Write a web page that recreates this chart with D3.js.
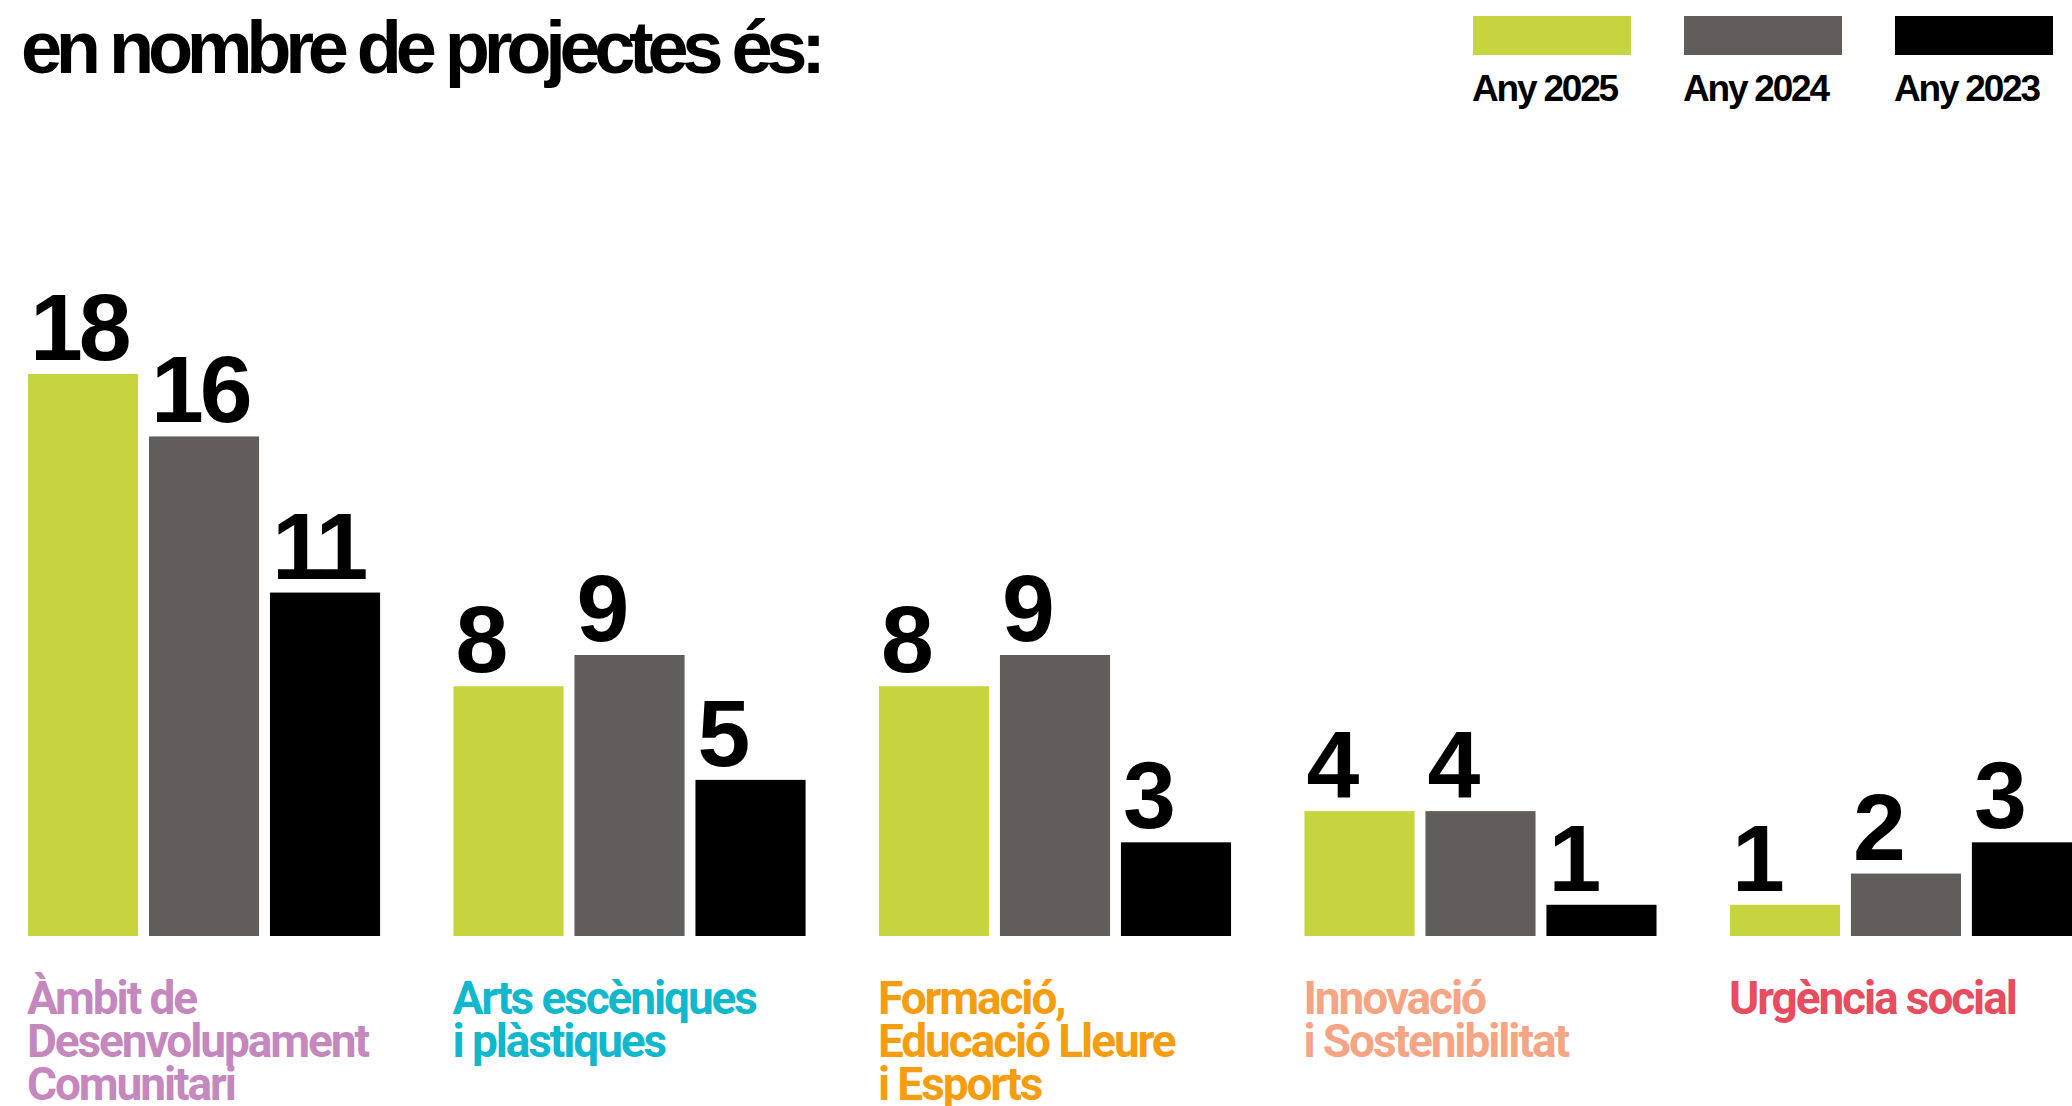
<!DOCTYPE html>
<html lang="ca">
<head>
  <meta charset="UTF-8">
  <title>Projectes per àmbit</title>
  <script src="https://d3js.org/d3.v7.min.js"></script>
  <style>
    body {
      margin: 0;
      padding: 0;
      background: #ffffff;
      overflow: hidden;
    }
    svg { display: block; }
  </style>
</head>
<body>
  <script>
    // data
    const categories = [
      "Àmbit de Desenvolupament Comunitari",
      "Arts escèniques i plàstiques",
      "Formació, Educació Lleure i Esports",
      "Innovació i Sostenibilitat",
      "Urgència social"
    ];
    const categoryLines = [
      ["Àmbit de", "Desenvolupament", "Comunitari"],
      ["Arts escèniques", "i plàstiques"],
      ["Formació,", "Educació Lleure", "i Esports"],
      ["Innovació", "i Sostenibilitat"],
      ["Urgència social"]
    ];
    const series = ["Any 2025", "Any 2024", "Any 2023"];
    const values2025 = [18, 8, 8, 4, 1];
    const values2024 = [16, 9, 9, 4, 2];
    const values2023 = [11, 5, 3, 1, 3];
    const title = "en nombre de projectes és:";

    const width = 2072;
    const height = 1106;

    const seriesValues = [values2025, values2024, values2023];
    const rows = categories.flatMap((c, i) =>
      series.map((s, j) => ({ category: c, series: s, value: seriesValues[j][i] })));

    const barColor = d3.scaleOrdinal()
        .domain(series)
        .range(["#c6d53e", "#615d5a", "#000000"]);

    const labelColor = d3.scaleOrdinal()
        .domain(categories)
        .range(["#c487be", "#10b8cd", "#f59d10", "#f5a583", "#e84c5f"]);

    const x0 = d3.scaleBand()
        .domain(categories)
        .range([28, 2082])
        .paddingInner(0.1725)
        .paddingOuter(0);

    const x1 = d3.scaleBand()
        .domain(series)
        .range([0, x0.bandwidth()])
        .paddingInner(0.09);

    const y = d3.scaleLinear()
        .domain([0, 18])
        .range([936, 374]);

    const svg = d3.create("svg")
        .attr("width", width)
        .attr("height", height)
        .attr("viewBox", [0, 0, width, height]);

    // title
    svg.append("text")
        .attr("x", 21)
        .attr("y", 73)
        .attr("font-family", "'Liberation Sans', Arial, sans-serif")
        .attr("font-weight", 700)
        .attr("font-size", 74)
        .attr("letter-spacing", "-6.3px")
        .attr("fill", "#000")
        .text(title);

    // legend
    const legendX = d3.scaleBand()
        .domain(series)
        .range([1473, 2053])
        .paddingInner(0.251);

    const legend = svg.append("g")
      .selectAll("g")
      .data(series)
      .join("g")
        .attr("transform", d => `translate(${legendX(d)},0)`);

    legend.append("rect")
        .attr("x", 0)
        .attr("y", 16)
        .attr("width", legendX.bandwidth())
        .attr("height", 39)
        .attr("fill", d => barColor(d));

    legend.append("text")
        .attr("x", -1)
        .attr("y", 101)
        .attr("font-family", "'Liberation Sans', Arial, sans-serif")
        .attr("font-weight", 700)
        .attr("font-size", 37)
        .attr("letter-spacing", "-2.2px")
        .attr("fill", "#000")
        .text(d => d);

    // bars
    const group = svg.append("g")
      .selectAll("g")
      .data(categories)
      .join("g")
        .attr("transform", d => `translate(${x0(d)},0)`);

    group.selectAll("rect")
      .data(c => rows.filter(r => r.category === c))
      .join("rect")
        .attr("x", d => x1(d.series))
        .attr("y", d => y(d.value))
        .attr("width", x1.bandwidth())
        .attr("height", d => y(0) - y(d.value))
        .attr("fill", d => barColor(d.series));

    // value labels
    group.selectAll("text.value")
      .data(c => rows.filter(r => r.category === c))
      .join("text")
        .attr("class", "value")
        .attr("x", d => x1(d.series) + 2)
        .attr("y", d => y(d.value) - 14)
        .attr("font-family", "'Liberation Sans', Arial, sans-serif")
        .attr("font-weight", 700)
        .attr("font-size", 95)
        .attr("letter-spacing", "-4px")
        .attr("fill", "#000")
        .text(d => d.value);

    // category labels
    group.append("text")
        .attr("class", "category")
        .attr("x", 0)
        .attr("y", 1014)
        .attr("font-family", "Roboto, 'Liberation Sans', sans-serif")
        .attr("font-weight", 700)
        .attr("font-size", 46)
        .attr("letter-spacing", "-2.1px")
        .attr("fill", d => labelColor(d))
      .selectAll("tspan")
      .data((d, i) => categoryLines[i])
      .join("tspan")
        .attr("x", -1)
        .attr("dy", (d, i) => i === 0 ? 0 : 43)
        .text(d => d);

    document.body.appendChild(svg.node());
  </script>
</body>
</html>
